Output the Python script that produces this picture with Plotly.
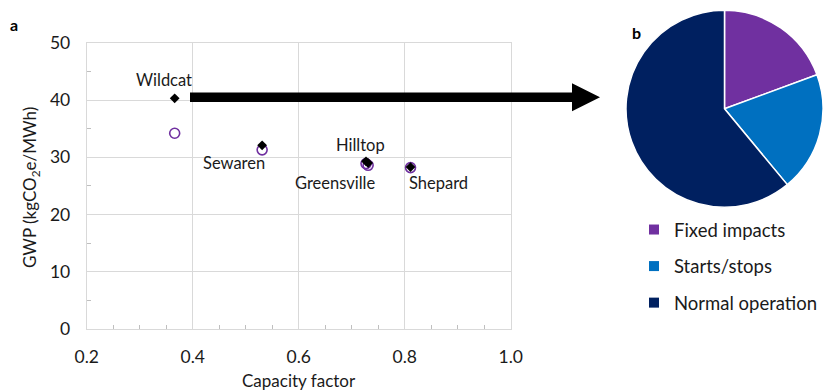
import plotly.graph_objects as go

W, H = 823, 390

# Panel a: capacity factor vs. life-cycle GWP for each site
sites = ["Wildcat", "Sewaren", "Hilltop", "Greensville", "Shepard"]
capacity_factor = [0.366, 0.531, 0.727, 0.731, 0.811]
gwp_actual = [40.3, 32.1, 29.3, 29.0, 28.3]
gwp_steady = [34.2, 31.3, 28.9, 28.6, 28.2]

# label offsets (pixels) from each site's marker
label_dx = [-11, -28, -6, -33, 28]
label_dy = [-18, 18, -16, 20, 16]

# Panel b: breakdown of GWP contributions
components = ["Fixed impacts", "Starts/stops", "Normal operation"]
shares = [19.4, 19.6, 61.0]
colors = ["#7030A0", "#0070C0", "#002060"]

FONT = "Lato"
GRID = "#D9D9D9"
TXT = "#1a1a1a"


def px_x(p):
    return p / W


def px_y(p):
    return 1 - p / H


def paper_text(x, y, text, size, color=TXT, angle=0):
    fig.add_annotation(x=px_x(x), y=px_y(y), xref="paper", yref="paper",
                       xanchor="center", yanchor="middle", text=text,
                       showarrow=False, textangle=angle,
                       font=dict(family=FONT, size=size, color=color))


fig = go.Figure()

fig.add_trace(go.Scatter(
    x=capacity_factor, y=gwp_steady, mode="markers",
    marker=dict(symbol="circle-open", size=10, color="#7030A0",
                line=dict(width=1.6, color="#7030A0")),
    showlegend=False, hoverinfo="skip"))
fig.add_trace(go.Scatter(
    x=capacity_factor, y=gwp_actual, mode="markers",
    marker=dict(symbol="diamond", size=7.5, color="black"),
    showlegend=False, hoverinfo="skip"))

for name, cx, cy, dx, dy in zip(sites, capacity_factor, gwp_actual, label_dx, label_dy):
    fig.add_annotation(x=cx, y=cy, xref="x", yref="y", text=name, showarrow=False,
                       xanchor="center", yanchor="middle",
                       xshift=dx, yshift=-dy, font=dict(family=FONT, size=16.5, color=TXT))

fig.add_trace(go.Pie(
    labels=components, values=shares, sort=False, direction="clockwise",
    rotation=0, marker=dict(colors=colors, line=dict(color="white", width=1.5)),
    textinfo="none", showlegend=False, hoverinfo="label+percent",
    domain=dict(x=[px_x(626), 1.0], y=[px_y(207.5), px_y(10)])))

# legend entries for the pie components
for name, col in zip(components, colors):
    fig.add_trace(go.Scatter(
        x=[None], y=[None], mode="markers", name=name, legendgroup=name,
        marker=dict(symbol="square", size=10, color=col), showlegend=True))

axis_common = dict(
    showgrid=True, gridcolor=GRID, gridwidth=1, zeroline=False,
    showline=True, linecolor=GRID, mirror=True, ticks="", automargin=False,
    tickfont=dict(family=FONT, size=17.5, color=TXT), ticklabelstandoff=12)

fig.update_xaxes(
    domain=[px_x(86.7), px_x(510.7)], range=[0.2, 1.0], dtick=0.2, tickformat=".1f",
    minor=dict(ticks="inside", dtick=0.05, ticklen=4, tickcolor="#BFBFBF", showgrid=False),
    **axis_common)
fig.update_yaxes(
    domain=[px_y(329.2), px_y(42.7)], range=[0, 50], dtick=10,
    minor=dict(ticks="inside", dtick=5, ticklen=4, tickcolor="#BFBFBF", showgrid=False),
    **axis_common)

# axis titles
paper_text(298.7, 380, "Capacity factor", 17)
paper_text(31, 188, "GWP (kgCO<sub>2</sub>e/MWh)", 17, angle=-90)

# arrow linking panel a to panel b
x0, x1, xb = 190, 600, 572
yc, half_bar, half_head = 97.3, 4.7, 14
path = (f"M{px_x(x0)},{px_y(yc - half_bar)} L{px_x(xb)},{px_y(yc - half_bar)} "
        f"L{px_x(xb)},{px_y(yc - half_head)} L{px_x(x1)},{px_y(yc)} "
        f"L{px_x(xb)},{px_y(yc + half_head)} L{px_x(xb)},{px_y(yc + half_bar)} "
        f"L{px_x(x0)},{px_y(yc + half_bar)} Z")
fig.add_shape(type="path", xref="paper", yref="paper", path=path,
              fillcolor="black", line=dict(width=0))

# panel letters
paper_text(14, 25, "<b>a</b>", 16, color="black")
paper_text(636, 32, "<b>b</b>", 16, color="black")

fig.update_layout(
    width=W, height=H, margin=dict(l=0, r=0, t=0, b=0),
    paper_bgcolor="white", plot_bgcolor="white",
    legend=dict(x=1.0, y=px_y(211), xanchor="right", yanchor="top",
                tracegroupgap=9.5, font=dict(family=FONT, size=18.5, color=TXT),
                bgcolor="rgba(0,0,0,0)"),
)

fig.write_html("out.html")
